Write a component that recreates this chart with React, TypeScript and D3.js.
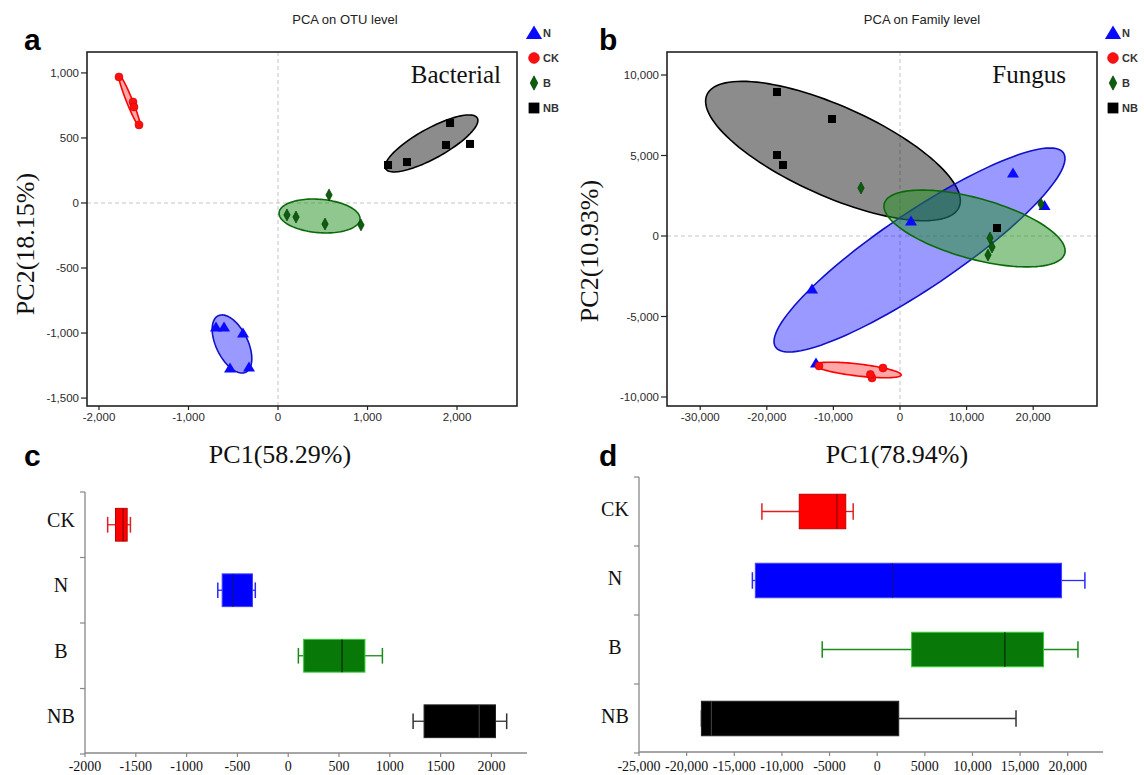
import React from "react";
import * as d3 from "d3";

// ---------- DATA ----------
const groups = ["N", "CK", "B", "NB"];

// Panel a: PCA on OTU level (PC1, PC2)
const otuN = [[-693, -954], [-603, -954], [-391, -1000], [-536, -1269], [-324, -1262]];
const otuCK = [[-1777, 969], [-1620, 777], [-1609, 738], [-1553, 600]];
const otuB = [[570, 62], [100, -92], [201, -108], [525, -162], [927, -169]];
const otuNB = [[1229, 292], [1441, 315], [1877, 446], [1922, 615], [2145, 454]];
// ellipses: [centerX, centerY, majorX, majorY, minorX, minorY] in data units
const otuEllipseN = [-514, -1084, 154, -217, -159, -53];
const otuEllipseCK = [-1659, 784, 117, -200, -31, -9];
const otuEllipseB = [464, -100, 452, -25, -15, -128];
const otuEllipseNB = [1715, 458, 512, 195, 81, -100];
const otuXTicks = [-2000, -1000, 0, 1000, 2000];
const otuYTicks = [-1500, -1000, -500, 0, 500, 1000];

// Panel b: PCA on Family level
const famN = [[-13213, -3292], [-12612, -7888], [1652, 932], [16967, 3913], [21700, 1900]];
const famCK = [[-12162, -8075], [-2553, -8199], [-4204, -8820], [-4450, -8600]];
const famB = [[-5856, 2981], [13514, -124], [13814, -683], [13213, -1180], [21171, 1988]];
const famNB = [[-18470, 8944], [-10210, 7267], [-18470, 5031], [-17570, 4410], [14565, 497]];
const famEllipseN = [2929, -869, 21614, 6030, 3169, -1944];
const famEllipseCK = [-6308, -8321, 6489, -311, -104, -370];
const famEllipseB = [11190, 466, 13548, -1553, -1217, -1813];
const famEllipseNB = [-10063, 5279, 18925, -3496, -2764, -2552];
const famXTicks = [-30000, -20000, -10000, 0, 10000, 20000];
const famYTicks = [-10000, -5000, 0, 5000, 10000];

// Panels c, d: PC1 box plots [min, q1, median, q3, max]
const boxCategories = ["CK", "N", "B", "NB"];
const otuBoxCK = [-1777, -1700, -1625, -1585, -1553];
const otuBoxN = [-693, -650, -545, -352, -324];
const otuBoxB = [100, 152, 530, 755, 927];
const otuBoxNB = [1229, 1337, 1880, 2040, 2150];
const famBoxCK = [-12100, -8180, -4230, -3300, -2520];
const famBoxN = [-13100, -12790, 1600, 19350, 21800];
const famBoxB = [-5770, 3610, 13400, 17460, 21070];
const famBoxNB = [-18450, -18450, -17400, 2260, 14570];
const otuBoxTicks = [-2000, -1500, -1000, -500, 0, 500, 1000, 1500, 2000];
const otuBoxTickLabels = ["-2000", "-1500", "-1000", "-500", "0", "500", "1000", "1500", "2000"];
const famBoxTicks = [-25000, -20000, -15000, -10000, -5000, 0, 5000, 10000, 15000, 20000];
const famBoxTickLabels = ["-25,000", "-20,000", "-15,000", "-10,000", "-5000", "0", "5000", "10,000", "15,000", "20,000"];

// ---------- STYLES ----------
const markerColor: Record<string, string> = { N: "#0a0aff", CK: "#ff1010", B: "#0b5e0b", NB: "#000000" };
const ellipseStyle: Record<string, { fill: string; op: number; stroke: string }> = {
  N: { fill: "#0000ff", op: 0.4, stroke: "#1010c8" },
  CK: { fill: "#ff0000", op: 0.35, stroke: "#ff0000" },
  B: { fill: "#1f8f1f", op: 0.5, stroke: "#0a6a0a" },
  NB: { fill: "#000000", op: 0.45, stroke: "#000000" },
};
const boxStyle: Record<string, { fill: string; stroke: string; whisk: string; med: string }> = {
  CK: { fill: "#ff0000", stroke: "#c00000", whisk: "#e02020", med: "#900000" },
  N: { fill: "#0000ff", stroke: "#4040ff", whisk: "#2828ff", med: "#101080" },
  B: { fill: "#087808", stroke: "#33cc33", whisk: "#1a8a1a", med: "#052a05" },
  NB: { fill: "#000000", stroke: "#222222", whisk: "#333333", med: "#3a3a3a" },
};

const fmt = (v: number) => d3.format(",")(v).replace("\u2212", "-");
const SERIF = "'Liberation Serif', 'Times New Roman', serif";
const SANS = "'Liberation Sans', Arial, sans-serif";

function Marker({ g, x, y, s = 1 }: { g: string; x: number; y: number; s?: number }) {
  const c = markerColor[g];
  if (g === "N") return <path d={`M${x},${y - 5.5 * s}L${x + 6 * s},${y + 4.5 * s}L${x - 6 * s},${y + 4.5 * s}Z`} fill={c} />;
  if (g === "CK") return <circle cx={x} cy={y} r={4 * s} fill={c} stroke="#d00000" strokeWidth={0.6} />;
  if (g === "B") return <path d={`M${x},${y - 6 * s}L${x + 3.2 * s},${y}L${x},${y + 6 * s}L${x - 3.2 * s},${y}Z`} fill={c} stroke="#053305" strokeWidth={0.6} />;
  return <rect x={x - 4 * s} y={y - 4 * s} width={8 * s} height={8 * s} fill={c} />;
}

function ScatterPanel(props: {
  xDomain: number[]; yDomain: number[]; x0: number; x1: number; y0: number; y1: number;
  points: Record<string, number[][]>; ellipses: [string, number[]][];
  xTicks: number[]; yTicks: number[]; title: string; titleX: number; tag: string; tagX: number;
  legendX: number; yLabel: string; yLabelX: number; yLabelY: number; xLabel: string; xLabelX: number;
}) {
  const { x0, x1, y0, y1 } = props;
  const x = d3.scaleLinear().domain(props.xDomain).range([x0, x1]);
  const y = d3.scaleLinear().domain(props.yDomain).range([y1, y0]);
  const line = d3.line<number[]>().x((d) => x(d[0])).y((d) => y(d[1])).curve(d3.curveLinearClosed);
  const ts = d3.range(0, 2 * Math.PI, Math.PI / 60);
  const clipId = "clip" + props.tag;
  return (
    <g>
      <defs>
        <clipPath id={clipId}><rect x={x0} y={y0} width={x1 - x0} height={y1 - y0} /></clipPath>
      </defs>
      <text x={props.titleX} y={24} textAnchor="middle" fontFamily={SANS} fontSize={13} fill="#222">{props.title}</text>
      <text x={props.tagX} y={50} fontFamily={SANS} fontSize={30} fontWeight="bold" fill="#000">{props.tag}</text>
      <g clipPath={`url(#${clipId})`}>
        <line x1={x(0)} x2={x(0)} y1={y0} y2={y1} stroke="#c4c4c4" strokeDasharray="4,3" />
        <line x1={x0} x2={x1} y1={y(0)} y2={y(0)} stroke="#c4c4c4" strokeDasharray="4,3" />
        {props.ellipses.map(([g, e]) => {
          const pts = ts.map((t) => [e[0] + e[2] * Math.cos(t) + e[4] * Math.sin(t), e[1] + e[3] * Math.cos(t) + e[5] * Math.sin(t)]);
          const st = ellipseStyle[g];
          return <path key={g} d={line(pts) || ""} fill={st.fill} fillOpacity={st.op} stroke={st.stroke} strokeWidth={1.6} />;
        })}
        {groups.map((g) => props.points[g].map((p, i) => <Marker key={g + i} g={g} x={x(p[0])} y={y(p[1])} />))}
      </g>
      <rect x={x0} y={y0} width={x1 - x0} height={y1 - y0} fill="none" stroke="#222" strokeWidth={1.6} />
      {props.yTicks.map((t) => (
        <g key={"y" + t}>
          <line x1={x0 - 6} x2={x0} y1={y(t)} y2={y(t)} stroke="#222" strokeWidth={1.2} />
          <text x={x0 - 8} y={y(t)} dy="0.35em" textAnchor="end" fontFamily={SANS} fontSize={11.5} fill="#2a2a2a">{fmt(t)}</text>
        </g>
      ))}
      {props.xTicks.map((t) => (
        <g key={"x" + t}>
          <line x1={x(t)} x2={x(t)} y1={y1} y2={y1 + 4} stroke="#222" strokeWidth={1.2} />
          <text x={x(t)} y={421} textAnchor="middle" fontFamily={SANS} fontSize={11.5} fill="#2a2a2a">{fmt(t)}</text>
        </g>
      ))}
      {groups.map((g, i) => (
        <g key={"lg" + g}>
          <Marker g={g} x={props.legendX} y={33 + 25 * i} s={g === "B" ? 1.2 : 1.35} />
          <text x={props.legendX + 9} y={33 + 25 * i} dy="0.35em" fontFamily={SANS} fontSize={11} fontWeight="bold" fill="#333">{g}</text>
        </g>
      ))}
      <text transform={`translate(${props.yLabelX},${props.yLabelY}) rotate(-90)`} textAnchor="middle" dy="0.35em" fontFamily={SERIF} fontSize={26} fill="#111">{props.yLabel}</text>
      <text x={props.xLabelX} y={463} textAnchor="middle" fontFamily={SERIF} fontSize={26} fill="#111">{props.xLabel}</text>
    </g>
  );
}

function BoxPanel(props: {
  domain: number[]; x0: number; x1: number; y0: number; y1: number; axisY: number;
  boxes: Record<string, number[]>; ticks: number[]; tickLabels: string[]; tag: string; tagX: number; labelX: number; labelDy: number;
}) {
  const x = d3.scaleLinear().domain(props.domain).range([props.x0, props.x1]);
  const band = d3.scaleBand().domain(boxCategories).range([props.y0, props.y1]).paddingInner(0).paddingOuter(0);
  const bw = band.bandwidth();
  const edges = [...boxCategories.map((c) => band(c) as number), props.y1];
  return (
    <g>
      <text x={props.tagX} y={466} fontFamily={SANS} fontSize={30} fontWeight="bold" fill="#000">{props.tag}</text>
      <line x1={props.x0} x2={props.x0} y1={props.y0} y2={props.y1} stroke="#888" strokeWidth={1.3} />
      <line x1={props.x0} x2={props.x1} y1={props.axisY} y2={props.axisY} stroke="#888" strokeWidth={1.3} />
      {edges.map((e, i) => <line key={"e" + i} x1={props.x0 - 5} x2={props.x0} y1={e} y2={e} stroke="#888" strokeWidth={1.2} />)}
      {props.ticks.map((t, i) => (
        <g key={"t" + t}>
          <line x1={x(t)} x2={x(t)} y1={props.axisY} y2={props.axisY + 4} stroke="#888" strokeWidth={1.2} />
          <text x={x(t)} y={771} textAnchor="middle" fontFamily={SERIF} fontSize={14} fill="#111">{props.tickLabels[i]}</text>
        </g>
      ))}
      {boxCategories.map((c) => {
        const [mn, q1, md, q3, mx] = props.boxes[c];
        const cy = (band(c) as number) + bw / 2;
        const st = boxStyle[c];
        const h = bw * 0.5;
        const cap = bw * 0.24;
        return (
          <g key={c}>
            <text x={props.labelX} y={cy + props.labelDy} dy="0.35em" textAnchor="middle" fontFamily={SERIF} fontSize={20} fill="#111">{c}</text>
            <line x1={x(mn)} x2={x(q1)} y1={cy} y2={cy} stroke={st.whisk} strokeWidth={1.3} />
            <line x1={x(q3)} x2={x(mx)} y1={cy} y2={cy} stroke={st.whisk} strokeWidth={1.3} />
            <line x1={x(mn)} x2={x(mn)} y1={cy - cap / 2} y2={cy + cap / 2} stroke={st.whisk} strokeWidth={1.5} />
            <line x1={x(mx)} x2={x(mx)} y1={cy - cap / 2} y2={cy + cap / 2} stroke={st.whisk} strokeWidth={1.5} />
            <rect x={x(q1)} y={cy - h / 2} width={x(q3) - x(q1)} height={h} fill={st.fill} stroke={st.stroke} strokeWidth={1} />
            <line x1={x(md)} x2={x(md)} y1={cy - h / 2} y2={cy + h / 2} stroke={st.med} strokeWidth={1.2} />
          </g>
        );
      })}
    </g>
  );
}

export default function App() {
  return (
    <svg width={1144} height={775} style={{ position: "absolute", left: 0, top: 0, background: "#fff" }}>
      <rect x={0} y={0} width={1144} height={775} fill="#fff" />
      <ScatterPanel
        xDomain={[-2134, 2670]} yDomain={[-1561, 1161]} x0={87} x1={517} y0={52} y1={406}
        points={{ N: otuN, CK: otuCK, B: otuB, NB: otuNB }}
        ellipses={[["NB", otuEllipseNB], ["N", otuEllipseN], ["B", otuEllipseB], ["CK", otuEllipseCK]]}
        xTicks={otuXTicks} yTicks={otuYTicks} title="PCA on OTU level" titleX={345} tag="a" tagX={24}
        legendX={534} yLabel="PC2(18.15%)" yLabelX={25} yLabelY={244} xLabel="PC1(58.29%)" xLabelX={280}
      />
      <text x={501} y={83} textAnchor="end" fontFamily={SERIF} fontSize={25} fill="#111">Bacterial</text>
      <ScatterPanel
        xDomain={[-34985, 29580]} yDomain={[-10559, 11429]} x0={667} x1={1097} y0={52} y1={406}
        points={{ N: famN, CK: famCK, B: famB, NB: famNB }}
        ellipses={[["NB", famEllipseNB], ["N", famEllipseN], ["B", famEllipseB], ["CK", famEllipseCK]]}
        xTicks={famXTicks} yTicks={famYTicks} title="PCA on Family level" titleX={922} tag="b" tagX={599}
        legendX={1113} yLabel="PC2(10.93%)" yLabelX={589} yLabelY={251} xLabel="PC1(78.94%)" xLabelX={897}
      />
      <text x={1066} y={83} textAnchor="end" fontFamily={SERIF} fontSize={25} fill="#111">Fungus</text>
      <BoxPanel
        domain={[-2000, 2350]} x0={85} x1={527} y0={492} y1={754} axisY={753}
        boxes={{ CK: otuBoxCK, N: otuBoxN, B: otuBoxB, NB: otuBoxNB }}
        ticks={otuBoxTicks} tickLabels={otuBoxTickLabels} tag="c" tagX={24} labelX={61} labelDy={-5}
      />
      <BoxPanel
        domain={[-25000, 23700]} x0={639} x1={1103} y0={477} y1={753} axisY={752}
        boxes={{ CK: famBoxCK, N: famBoxN, B: famBoxB, NB: famBoxNB }}
        ticks={famBoxTicks} tickLabels={famBoxTickLabels} tag="d" tagX={599} labelX={615} labelDy={-3}
      />
    </svg>
  );
}
